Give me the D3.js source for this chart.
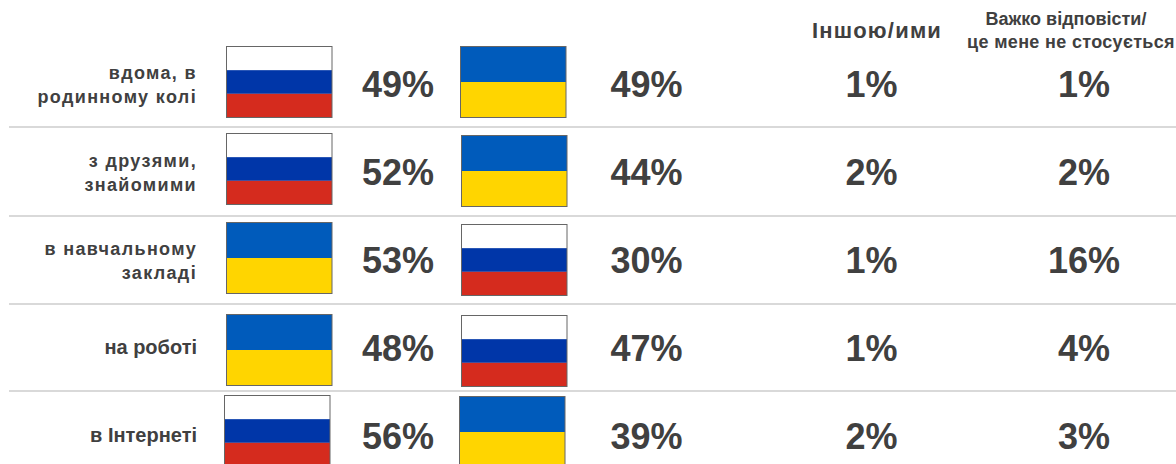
<!DOCTYPE html>
<html><head><meta charset="utf-8">
<script src="https://cdn.jsdelivr.net/npm/d3@7"></script>
<style>html,body{margin:0;padding:0;background:#fff;overflow:hidden}svg{display:block}text{font-family:"Liberation Sans",Arial,sans-serif;font-weight:bold;fill:#404040}</style>
</head><body><div id="c"></div>
<script>
const categories = [["вдома, в","родинному колі"],["з друзями,","знайомими"],["в навчальному","закладі"],["на роботі"],["в Інтернеті"]];
const firstFlag = ["ru","ru","ua","ua","ru"];
const firstValue = [49,52,53,48,56];
const secondFlag = ["ua","ua","ru","ru","ua"];
const secondValue = [49,44,30,47,39];
const otherValue = [1,2,1,1,2];
const hardValue = [1,2,16,4,3];

const W=1176,H=464;
const svg=d3.select("#c").append("svg").attr("width",W).attr("height",H);
const xPos={first:398,second:646.5,other:871.5,hard:1084};

// flag placement, layout only
const flagLayout=[
 {a:[226,46],b:[460,46]},
 {a:[226,133],b:[461,135]},
 {a:[226,222],b:[461,224]},
 {a:[226,314],b:[461,315]},
 {a:[224,395],b:[459,396]}];
const flagW=105.5,flagH=71;
const ruCol=["#ffffff","#0036a8","#d52b1e"], uaCol=["#005bbb","#ffd500"];
function flag(kind,px,py){
  const g=svg.append("g").attr("transform",`translate(${px},${py})`);
  const cols=kind==="ru"?ruCol:uaCol;
  const s=d3.scaleBand().domain(d3.range(cols.length)).range([0,flagH]);
  g.selectAll("rect.s").data(cols).join("rect").attr("class","s")
   .attr("x",0).attr("width",flagW).attr("y",(d,i)=>s(i)).attr("height",s.bandwidth()).attr("fill",d=>d);
  g.append("rect").attr("x",0).attr("y",0).attr("width",flagW).attr("height",flagH)
   .attr("fill","none").attr("stroke","#666").attr("stroke-width",1);
}
firstFlag.forEach((f,i)=>flag(f,flagLayout[i].a[0]+.5,flagLayout[i].a[1]+.5));
secondFlag.forEach((f,i)=>flag(f,flagLayout[i].b[0]+.5,flagLayout[i].b[1]+.5));

// separators
svg.selectAll("line.sep").data([127,216,304,391]).join("line").attr("class","sep")
 .attr("x1",9).attr("x2",W).attr("y1",d=>d).attr("y2",d=>d).attr("stroke","#d9d9d9").attr("stroke-width",2);

// row labels
const labelY=[[79,103],[167,191],[255,279],[354],[442]];
categories.forEach((lines,i)=>lines.forEach((t,j)=>{
  svg.append("text").attr("x",197).attr("y",labelY[i][j]).attr("text-anchor","end")
   .attr("font-size",i<3?18:20).attr("letter-spacing",i<3?1.35:0).text(t);
}));

// values
const valueY=[97,185,273,361,449];
[["first",firstValue],["second",secondValue],["other",otherValue],["hard",hardValue]].forEach(([k,vals])=>{
  svg.selectAll("text.v"+k).data(vals).join("text").attr("class","v"+k)
   .attr("x",xPos[k]).attr("y",(d,i)=>valueY[i]).attr("text-anchor","middle")
   .attr("font-size",36).text(d=>d+"%");
});

// headers
svg.append("text").attr("x",877).attr("y",38).attr("text-anchor","middle").attr("font-size",22).attr("letter-spacing",1.2).text("Іншою/ими");
svg.append("text").attr("x",1066).attr("y",25).attr("text-anchor","middle").attr("font-size",18).text("Важко відповісти/");
svg.append("text").attr("x",1071).attr("y",48).attr("text-anchor","middle").attr("font-size",18).attr("letter-spacing",.33).text("це мене не стосується");
</script></body></html>
